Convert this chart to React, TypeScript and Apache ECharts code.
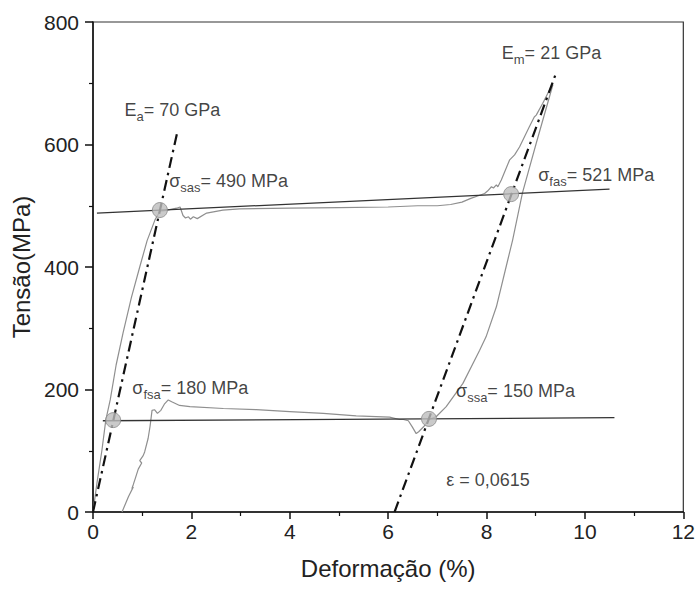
import React, { useEffect, useRef } from 'react';
import * as echarts from 'echarts';

const FONT = '"Liberation Sans", Arial, Helvetica, sans-serif';

// Stress-strain hysteresis loop (strain %, stress MPa), in path order
const loopStrain = [
  0, 0.08, 0.18, 0.26, 0.35, 0.47, 0.61, 0.78, 0.95, 1.1, 1.26, 1.36, 1.46, 1.7, 1.77, 1.83, 1.88, 1.94, 1.98, 2.04,
  2.12, 2.31, 2.64, 2.98, 4.0, 5.0, 6.0, 6.6, 7.0, 7.27, 7.5, 7.68, 7.82, 7.96, 8.02, 8.1, 8.14, 8.2, 8.23, 8.3,
  8.47, 8.57, 8.67, 8.87, 8.97, 9.01, 9.14, 9.28, 9.35,
  9.01, 8.73, 8.53, 8.43, 8.2, 7.99, 7.86, 7.52, 7.18, 6.98, 6.83, 6.73, 6.62, 6.57, 6.49, 6.41, 6.31, 6.23,
  6.03, 5.35, 4.68, 4.0, 3.32, 2.65, 1.97, 1.76, 1.6, 1.53, 1.45, 1.38, 1.31, 1.25, 1.2, 1.16, 1.12, 1.05, 1.02,
  0.95, 0.99, 0.92, 0.86, 0.82, 0.79, 0.82, 0.72, 0.59,
];
const loopStress = [
  0, 47, 100, 150, 183, 240, 292, 350, 400, 443, 477, 491, 492, 496, 498, 484, 480, 482, 478, 482,
  479, 488, 493, 495, 496, 497, 498, 500, 500, 502, 506, 512, 516, 520, 524, 531, 529, 534, 531, 542,
  575, 583, 596, 629, 645, 648, 667, 689, 698,
  602, 521, 444, 411, 335, 286, 264, 210, 172, 156, 151, 140, 131, 128, 139, 149, 151, 151,
  155, 157, 161, 164, 167, 169, 172, 174, 180, 183, 176, 166, 161, 167, 166, 140, 120, 98, 92,
  84, 80, 70, 55, 45, 38, 41, 25, 0,
];

// Transformation stress lines
const upperLineStrain = [0.08, 10.5];
const upperLineStress = [488, 527];
const lowerLineStrain = [0.2, 10.6];
const lowerLineStress = [149, 154];

// Elastic modulus lines (dash-dot)
const austeniteStrain = [0, 1.71];
const austeniteStress = [0, 619];
const martensiteStrain = [6.13, 9.42];
const martensiteStress = [0, 718];

// Marked transformation points
const markerStrain = [1.36, 8.5, 0.41, 6.83];
const markerStress = [493, 519, 150, 152];

// Annotations
const annotationSymbol = ['E', 'σ', 'E', 'σ', 'σ', 'σ', 'ε = 0,0615'];
const annotationSub = ['a', 'sas', 'm', 'fas', 'fsa', 'ssa', ''];
const annotationValue = ['= 70 GPa', '= 490 MPa', '= 21 GPa', '= 521 MPa', '= 180 MPa', '= 150 MPa', ''];
const annotationStrain = [0.65, 1.56, 8.32, 9.06, 0.81, 7.39, 7.19];
const annotationStress = [655, 539, 748, 549, 201, 196, 51];

const zip = (xs: number[], ys: number[]) => xs.map((x, i) => [x, ys[i]]);

export default function App() {
  const ref = useRef<HTMLDivElement>(null);

  useEffect(() => {
    const chart = echarts.init(ref.current!, null, { renderer: 'svg' });

    const annotationData = annotationStrain.map((x, i) => {
      let f = `{m|${annotationSymbol[i]}}`;
      if (annotationSub[i]) f += `{s|${annotationSub[i]}}`;
      if (annotationValue[i]) f += `{m|${annotationValue[i]}}`;
      return { value: [x, annotationStress[i]], label: { formatter: f } };
    });

    const straight = (color: string, width: number, type: any) => ({
      type: 'line',
      showSymbol: false,
      symbol: 'none',
      silent: true,
      lineStyle: { color, width, type },
    });

    chart.setOption({
      animation: false,
      backgroundColor: '#ffffff',
      grid: { left: 93, right: 14, top: 22, bottom: 80, show: true, borderColor: '#333', borderWidth: 1.2 },
      xAxis: {
        type: 'value',
        min: 0,
        max: 12,
        interval: 2,
        name: 'Deformação (%)',
        nameLocation: 'middle',
        nameGap: 44,
        nameTextStyle: { fontSize: 24, color: '#222', fontFamily: FONT },
        axisLine: { onZero: false, lineStyle: { color: '#111', width: 1.5 } },
        axisTick: { inside: false, length: 7, lineStyle: { color: '#111', width: 1.5 } },
        minorTick: { show: true, splitNumber: 2, length: 4, lineStyle: { color: '#111', width: 1.2 } },
        axisLabel: { fontSize: 21, color: '#222', margin: 9, fontFamily: FONT },
        splitLine: { show: false },
      },
      yAxis: {
        type: 'value',
        min: 0,
        max: 800,
        interval: 200,
        name: 'Tensão(MPa)',
        nameLocation: 'middle',
        nameGap: 57,
        nameTextStyle: { fontSize: 24, color: '#222', fontFamily: FONT },
        axisLine: { onZero: false, lineStyle: { color: '#111', width: 1.5 } },
        axisTick: { inside: false, length: 8, lineStyle: { color: '#111', width: 1.5 } },
        minorTick: { show: true, splitNumber: 2, length: 4, lineStyle: { color: '#111', width: 1.2 } },
        axisLabel: { fontSize: 21, color: '#222', margin: 14, fontFamily: FONT },
        splitLine: { show: false },
      },
      series: [
        {
          type: 'line',
          data: zip(loopStrain, loopStress),
          showSymbol: false,
          symbol: 'none',
          lineStyle: { color: '#8f8f8f', width: 1.2 },
          z: 2,
        },
        { ...straight('#333', 1.3, 'solid'), data: zip(upperLineStrain, upperLineStress), z: 3 },
        { ...straight('#333', 1.3, 'solid'), data: zip(lowerLineStrain, lowerLineStress), z: 3 },
        { ...straight('#111', 2.2, [11, 5, 2.5, 5]), data: zip(austeniteStrain, austeniteStress), z: 4 },
        { ...straight('#111', 2.2, [11, 5, 2.5, 5]), data: zip(martensiteStrain, martensiteStress), z: 4 },
        {
          type: 'scatter',
          data: zip(markerStrain, markerStress),
          symbol: 'circle',
          symbolSize: 15,
          itemStyle: { color: '#bdbdbd', borderColor: '#8a8a8a', borderWidth: 1 },
          z: 5,
        },
        {
          type: 'scatter',
          data: annotationData,
          symbolSize: 1,
          itemStyle: { color: 'rgba(0,0,0,0)' },
          silent: true,
          z: 6,
          label: {
            show: true,
            position: [0, 0],
            align: 'left',
            verticalAlign: 'middle',
            rich: {
              m: { fontSize: 18, lineHeight: 26, color: '#111', fontFamily: FONT },
              s: { fontSize: 13, lineHeight: 13, verticalAlign: 'bottom', color: '#111', fontFamily: FONT },
            },
          },
        },
      ],
    });

    return () => chart.dispose();
  }, []);

  return (
    <div
      ref={ref}
      style={{ position: 'absolute', left: 0, top: 0, width: 698, height: 592, background: '#fff' }}
    />
  );
}
